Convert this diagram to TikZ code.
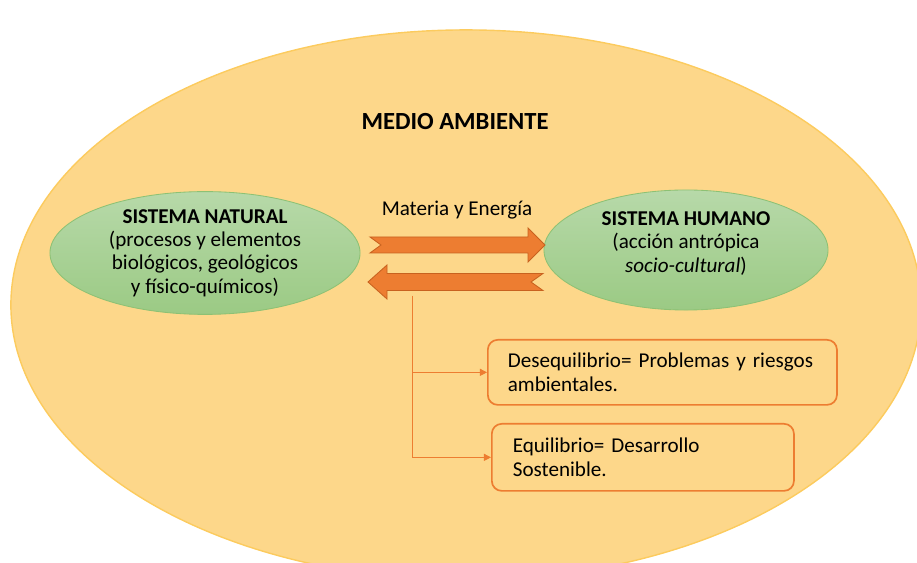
\documentclass[tikz,border=0pt]{standalone}
\usepackage{fontspec}
\setmainfont{Carlito}
\usetikzlibrary{shapes.geometric,arrows.meta,calc}
\definecolor{envfill}{HTML}{FDD78A}
\definecolor{envline}{HTML}{FCCB5E}
\definecolor{systop}{HTML}{B7D9A9}
\definecolor{sysbot}{HTML}{9BCA84}
\definecolor{sysline}{HTML}{8DC174}
\definecolor{flow}{HTML}{ED7D31}
\definecolor{flowline}{HTML}{C8621F}
\begin{document}
\begin{tikzpicture}[x=0.025cm, y=-0.025cm,
	txt/.style={font=\fontsize{15}{16.5}\selectfont},
	sys/.style={ellipse, draw=sysline, line width=0.6pt, top color=systop, bottom color=sysbot, align=center, inner sep=0pt, txt},
	fat/.style={fill=flow, draw=flowline, line width=0.6pt, line join=miter},
	result/.style={draw=flow, line width=1.2pt, rounded corners=7pt, fill=envfill, anchor=north west, align=left, inner ysep=0pt, txt},
	branch/.style={draw=flow, line width=0.7pt, -{Triangle[length=5pt,width=5pt]}}]
	\useasboundingbox (0,0) rectangle (917,563);
	\node (env) [ellipse, draw=envline, line width=1pt, fill=envfill, minimum width=22.75cm, minimum height=13.75cm] at (466,305) {};
	\node (title) at (455,122) {\fontsize{17.5}{19}\selectfont\textbf{MEDIO AMBIENTE}};
	\node (nat) [sys, minimum width=7.75cm, minimum height=3cm] at (205,253) {\textbf{SISTEMA NATURAL}\\(procesos y elementos\\biológicos, geológicos\\y físico-químicos)};
	\node (hum) [sys, minimum width=7.1cm, minimum height=3cm] at (686,250) {\textbf{SISTEMA HUMANO}\\(acción antrópica\\\textit{socio-cultural})\\[-5pt]\mbox{}};
	\node (flux) [txt] at (457,210) {Materia y Energía};
	\node (b1) [result, minimum width=8.725cm, minimum height=1.625cm, inner xsep=0.5cm, text width=7.725cm] at (487,339) {Desequilibrio= Problemas y riesgos\\ambientales.};
	\node (b2) [result, minimum width=7.55cm, minimum height=1.675cm, inner xsep=0.525cm, text width=6.5cm] at (491,423) {Equilibrio= Desarrollo\\Sostenible.};

	\coordinate (m1) at (370,245);
	\coordinate (m2) at (545,245);
	\coordinate (m3) at (368,282);
	\coordinate (m4) at (543,282);
	\coordinate (split) at (412,296);

	\draw[fat] ($(m1)+(0,-8)$) -- ($(m2)+(-17,-8)$) -- ($(m2)+(-17,-17)$) -- (m2) -- ($(m2)+(-17,17)$) -- ($(m2)+(-17,8)$) -- ($(m1)+(0,8)$) -- ($(m1)+(11,0)$) -- cycle;
	\draw[fat] (m3) -- ($(m3)+(19,-17)$) -- ($(m3)+(19,-8.5)$) -- ($(m4)+(0,-8.5)$) -- ($(m4)+(-12,0)$) -- ($(m4)+(0,8.5)$) -- ($(m3)+(19,8.5)$) -- ($(m3)+(19,17)$) -- cycle;

	\draw[branch] (split) |- (b1.west);
	\draw[branch] (split) |- (b2.west);
\end{tikzpicture}
\end{document}
